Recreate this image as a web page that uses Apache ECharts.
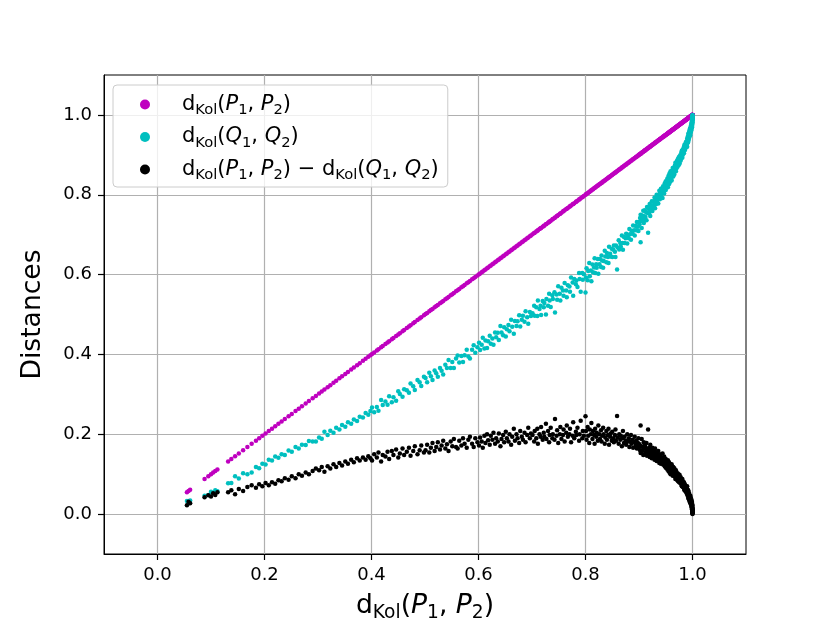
<!DOCTYPE html>
<html><head><meta charset="utf-8">
<script src="https://cdn.jsdelivr.net/npm/echarts@6/dist/echarts.min.js"></script>
<style>html,body{margin:0;padding:0;background:#fff}#c{width:830px;height:623px}</style>
</head><body><div id="c"></div>
<script>
// x values: d_Kol(P1,P2)
const pDist = [
0.055,0.058,0.061,0.088,0.095,0.1,0.104,0.108,0.112,0.132,0.138,0.145,0.152,0.16,0.168,0.176,0.184,0.19,0.196,
0.202,0.208,0.214,0.22,0.226,0.232,0.238,0.245,0.251,0.258,0.264,0.27,0.277,0.283,0.29,0.296,
0.302,0.307,0.312,0.318,0.323,0.329,0.334,0.34,0.345,0.351,0.356,0.362,0.367,0.373,0.378,0.384,0.389,0.394,0.398,
0.401,0.405,0.41,0.413,0.418,0.421,0.426,0.43,0.433,0.438,0.441,0.446,0.45,0.453,0.458,0.461,0.466,0.47,0.473,0.478,0.481,0.486,0.49,0.493,0.498,
0.501,0.504,0.508,0.511,0.514,0.518,0.521,0.524,0.528,0.531,
0.534,0.538,0.541,0.544,0.548,0.551,0.554,0.558,0.561,0.564,
0.568,0.571,0.574,0.578,0.581,0.584,0.588,0.591,0.594,0.598,
0.601,0.603,0.606,0.608,0.611,0.613,0.616,0.618,0.621,0.623,
0.626,0.628,0.631,0.633,0.636,0.638,0.641,0.643,0.646,0.648,
0.651,0.653,0.656,0.658,0.661,0.663,0.666,0.668,0.671,0.673,
0.676,0.678,0.681,0.683,0.686,0.688,0.691,0.693,0.696,0.698,
0.701,0.704,0.705,0.708,0.71,0.711,0.714,0.716,0.717,0.72,
0.722,0.723,0.726,0.727,0.73,0.732,0.733,0.735,0.738,0.739,
0.742,0.743,0.746,0.747,0.749,0.752,0.753,0.755,0.758,0.759,
0.761,0.764,0.765,0.767,0.77,0.771,0.773,0.776,0.777,0.779,
0.782,0.783,0.785,0.788,0.789,0.791,0.794,0.795,0.797,0.8,
0.801,0.802,0.804,0.805,0.807,0.808,0.81,0.811,0.813,0.814,
0.816,0.817,0.818,0.82,0.821,0.823,0.824,0.826,0.827,0.829,
0.83,0.831,0.833,0.834,0.836,0.837,0.839,0.84,0.842,0.843,
0.844,0.846,0.847,0.849,0.85,0.852,0.853,0.855,0.856,0.857,
0.859,0.86,0.862,0.863,0.865,0.866,0.868,0.869,0.87,0.872,
0.873,0.875,0.876,0.878,0.879,0.881,0.882,0.883,0.885,0.886,
0.888,0.889,0.891,0.892,0.894,0.895,0.896,0.898,0.899,0.9,
0.901,0.902,0.903,0.903,0.904,0.905,0.906,0.907,0.908,0.909,
0.91,0.911,0.911,0.912,0.913,0.914,0.915,0.916,0.917,0.918,
0.919,0.92,0.921,0.921,0.922,0.923,0.924,0.925,0.926,0.927,
0.928,0.929,0.93,0.93,0.931,0.932,0.933,0.934,0.935,0.936,
0.937,0.938,0.939,0.939,0.94,0.941,0.942,0.943,0.944,0.945,
0.946,0.946,0.947,0.948,0.949,0.949,0.95,0.95,0.951,0.952,
0.953,0.953,0.954,0.954,0.955,0.955,0.956,0.956,0.957,0.957,
0.958,0.958,0.959,0.959,0.96,0.96,0.961,0.961,0.962,0.962,
0.963,0.963,0.964,0.964,0.965,0.965,0.966,0.966,0.967,0.967,
0.968,0.968,0.969,0.969,0.97,0.97,0.971,0.971,0.972,0.972,
0.973,0.973,0.974,0.974,0.975,0.975,0.976,0.976,0.977,0.977,
0.978,0.978,0.979,0.979,0.98,0.98,0.981,0.981,0.982,0.982,
0.983,0.983,0.984,0.984,0.985,0.985,0.986,0.986,0.987,0.987,
0.988,0.988,0.989,0.989,0.99,0.99,0.99,0.991,0.991,0.991,
0.992,0.992,0.992,0.993,0.993,0.993,0.994,0.994,0.994,0.995,
0.995,0.995,0.995,0.996,0.996,0.996,0.996,0.997,0.997,0.997,
0.997,0.997,0.998,0.998,0.998,0.998,0.998,0.998,0.999,0.999,
0.999,0.999,0.999,0.999,0.999,0.9995,0.9995,0.9995,0.9995,0.9995,
0.9995,0.9997,0.9997,0.9997,0.9997,0.9998,0.9998,0.9998,0.9999,0.9999,
0.9999,0.9999,1.0,1.0,1.0,1.0,0.9996,0.9993,0.9991,0.9989
];
// black series: d_Kol(P1,P2) - d_Kol(Q1,Q2)
const diffKol = [
0.022,0.031,0.027,0.042,0.047,0.044,0.052,0.048,0.055,0.055,0.06,0.05,0.063,0.058,0.068,0.072,0.066,0.075,0.07,
0.078,0.072,0.08,0.076,0.085,0.082,0.09,0.086,0.095,0.09,0.1,0.096,0.104,0.1,0.108,0.114,
0.11,0.118,0.106,0.12,0.114,0.125,0.118,0.128,0.122,0.132,0.126,0.136,0.13,0.14,0.134,0.142,0.136,0.145,0.14,
0.134,0.15,0.142,0.154,0.132,0.148,0.144,0.156,0.138,0.158,0.148,0.162,0.142,0.152,0.164,0.148,0.156,0.166,0.146,0.158,0.17,0.15,0.16,0.172,0.154,
0.16,0.174,0.154,0.166,0.178,0.158,0.168,0.18,0.162,0.172,
0.184,0.164,0.175,0.158,0.182,0.17,0.188,0.168,0.164,0.184,
0.172,0.19,0.176,0.166,0.186,0.194,0.176,0.168,0.19,0.18,
0.172,0.192,0.182,0.166,0.196,0.178,0.2,0.185,0.174,0.196,
0.186,0.204,0.176,0.19,0.182,0.202,0.17,0.188,0.198,0.18,
0.206,0.19,0.182,0.2,0.174,0.194,0.214,0.184,0.2,0.19,
0.178,0.208,0.194,0.186,0.204,0.18,0.198,0.216,0.19,0.202,
0.198,0.182,0.208,0.19,0.214,0.176,0.2,0.194,0.218,0.186,
0.204,0.194,0.226,0.188,0.208,0.18,0.198,0.216,0.19,0.2,
0.186,0.238,0.196,0.21,0.178,0.2,0.218,0.188,0.198,0.212,
0.182,0.204,0.222,0.194,0.2,0.214,0.18,0.196,0.23,0.19,
0.206,0.198,0.216,0.184,0.2,0.234,0.19,0.208,0.196,0.245,
0.208,0.186,0.218,0.196,0.178,0.212,0.2,0.228,0.188,0.208,
0.198,0.176,0.214,0.194,0.204,0.184,0.222,0.2,0.188,0.21,
0.182,0.196,0.216,0.2,0.176,0.192,0.208,0.186,0.198,0.214,
0.174,0.194,0.202,0.184,0.206,0.19,0.18,0.198,0.212,0.184,
0.246,0.192,0.176,0.2,0.186,0.196,0.17,0.19,0.208,0.178,
0.194,0.184,0.174,0.2,0.182,0.19,0.168,0.182,0.198,0.176,
0.186,0.166,0.18,0.194,0.172,0.184,0.164,0.178,0.19,0.168,
0.175,0.16,0.222,0.153,0.17,0.188,0.158,0.168,0.148,0.18,
0.164,0.174,0.15,0.168,0.156,0.178,0.146,0.162,0.212,0.153,
0.166,0.143,0.16,0.174,0.148,0.158,0.14,0.166,0.152,0.144,
0.16,0.136,0.15,0.164,0.142,0.155,0.133,0.148,0.138,0.158,
0.142,0.128,0.15,0.136,0.145,0.126,0.14,0.132,0.152,0.124,
0.138,0.128,0.144,0.12,0.134,0.126,0.116,0.138,0.122,0.13,
0.128,0.112,0.135,0.118,0.124,0.108,0.13,0.115,0.12,0.104,
0.126,0.11,0.118,0.1,0.122,0.108,0.114,0.125,0.102,0.116,
0.11,0.096,0.118,0.104,0.112,0.098,0.106,0.115,0.094,0.108,
0.1,0.088,0.11,0.096,0.104,0.09,0.098,0.086,0.102,0.092,
0.095,0.082,0.1,0.088,0.094,0.08,0.09,0.098,0.078,0.088,
0.084,0.092,0.074,0.086,0.08,0.07,0.088,0.076,0.082,0.068,
0.078,0.072,0.064,0.08,0.07,0.06,0.074,0.066,0.058,0.07,
0.064,0.055,0.068,0.058,0.05,0.062,0.07,0.054,0.046,0.06,
0.052,0.04,0.06,0.046,0.055,0.038,0.05,0.042,0.034,0.046,
0.036,0.03,0.042,0.04,0.028,0.034,0.046,0.03,0.036,0.024,
0.04,0.028,0.032,0.022,0.026,0.036,0.018,0.03,0.024,0.016,
0.02,0.028,0.012,0.022,0.03,0.014,0.02,0.01,0.024,0.016,
0.008,0.012,0.018,0.006,0.014,0.008,0.012,0.004,0.006,0.01,
0.003,0.008,0.0,0.004,0.002,0.006,0.012,0.018,0.022,0.026
];
const xTicks = [0.0, 0.2, 0.4, 0.6, 0.8, 1.0];
const yTicks = [0.0, 0.2, 0.4, 0.6, 0.8, 1.0];
const seriesNames = ['P', 'Q', 'D'];
const seriesColors = ['#bf00bf', '#00bfbf', '#000000'];

const F = 'DejaVu Sans';
const n = Math.min(pDist.length, diffKol.length);
const pPts = [], qPts = [], dPts = [];
for (let i = 0; i < n; i++) {
  const p = pDist[i], d = diffKol[i];
  pPts.push([p, p]);
  qPts.push([p, +(p - d).toFixed(5)]);
  dPts.push([p, d]);
}

function makeRich(base, sub, lh, subPad) {
  return {
    n: {fontSize: base, fontFamily: F, lineHeight: lh, color: '#000'},
    i: {fontSize: base, fontFamily: F, fontStyle: 'italic', lineHeight: lh, color: '#000'},
    s: {fontSize: sub, fontFamily: F, lineHeight: sub, padding: [subPad, 0, 0, 0], color: '#000'}
  };
}
function kol(a) {
  return '{n|d}{s|Kol}{n|(}{i|' + a + '}{s|1}{n|, }{i|' + a + '}{s|2}{n|)}';
}
const legendText = {P: kol('P'), Q: kol('Q'), D: kol('P') + '{n| \u2212 }' + kol('Q')};

const chart = echarts.init(document.getElementById('c'), null, {renderer: 'canvas'});
const axisCommon = {
  type: 'value', min: -0.1, max: 1.1,
  axisLine: {show: true, onZero: false, lineStyle: {color: '#000', width: 1}},
  axisTick: {show: true, inside: false, length: 6, lineStyle: {color: '#000', width: 1.2}},
  splitLine: {show: true, lineStyle: {color: '#b0b0b0', width: 1.2}},
};
chart.setOption({
  animation: false,
  backgroundColor: '#fff',
  grid: {left: 104, top: 75, right: 84, bottom: 69, outerBoundsMode: 'none', containLabel: false,
         show: true, borderColor: '#000', borderWidth: 1, backgroundColor: 'transparent'},
  legend: {
    orient: 'vertical', left: 113, top: 85,
    data: seriesNames.map(s => ({name: s, icon: 'circle'})),
    itemWidth: 64, itemHeight: 10, itemGap: 5.5,
    padding: [6, 9, 4, 27],
    backgroundColor: 'rgba(255,255,255,0.8)', borderColor: '#cccccc', borderWidth: 1, borderRadius: 4,
    selectedMode: false,
    formatter: name => legendText[name],
    textStyle: {rich: makeRich(21, 14.7, 28, 12)}
  },
  xAxis: Object.assign({}, axisCommon, {
    axisTick: Object.assign({}, axisCommon.axisTick, {customValues: xTicks}),
    axisLabel: {customValues: xTicks, formatter: v => v.toFixed(1), fontFamily: F, fontSize: 18, color: '#000', margin: 12},
    name: kol('P'), nameLocation: 'middle', nameGap: 35,
    nameTextStyle: {rich: makeRich(26.6, 18.6, 34, 14)}
  }),
  yAxis: Object.assign({}, axisCommon, {
    axisTick: Object.assign({}, axisCommon.axisTick, {customValues: yTicks}),
    axisLabel: {customValues: yTicks, formatter: v => v.toFixed(1), fontFamily: F, fontSize: 18, color: '#000', margin: 12},
    name: 'Distances', nameLocation: 'middle', nameGap: 57,
    nameTextStyle: {fontFamily: F, fontSize: 26.6, color: '#000'}
  }),
  series: [pPts, qPts, dPts].map((pts, k) => ({
    type: 'scatter', name: seriesNames[k], data: pts,
    symbol: 'circle', symbolSize: 4.5,
    itemStyle: {color: seriesColors[k], opacity: 1},
    emphasis: {disabled: true}, z: 2 + k
  }))
});
</script></body></html>
